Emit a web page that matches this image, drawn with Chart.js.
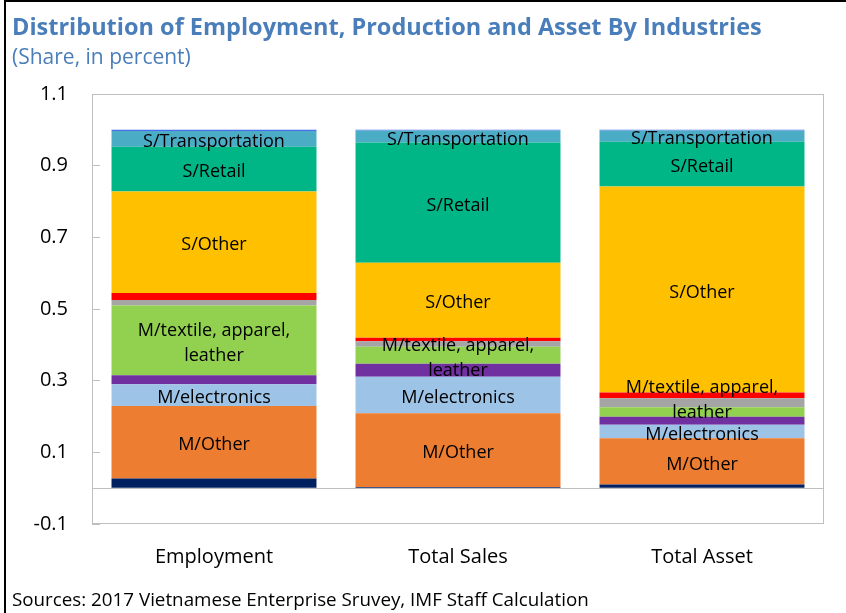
<!DOCTYPE html>
<html>
<head>
<meta charset="utf-8">
<script src="https://cdn.jsdelivr.net/npm/chart.js@4.4.1/dist/chart.umd.min.js"></script>
<style>
  html, body { margin: 0; padding: 0; background: #fff; }
  #chart { display: block; }
</style>
</head>
<body>
<canvas id="chart" width="846" height="613"></canvas>
<script>
const TITLE = 'Distribution of Employment, Production and Asset By Industries';
const SUBTITLE = '(Share, in percent)';
const SOURCE = 'Sources: 2017 Vietnamese Enterprise Sruvey, IMF Staff Calculation';

const categories = ['Employment', 'Total Sales', 'Total Asset'];
// 0 is only there for the zero line, it gets no label
const yTicks = [-0.1, 0, 0.1, 0.3, 0.5, 0.7, 0.9, 1.1];

// shares, bottom of the stack first
const agriculture  = [0.027, 0.003, 0.010];
const mOther       = [0.202, 0.206, 0.129];
const mElectronics = [0.061, 0.102, 0.038];
const mChemicals   = [0.025, 0.036, 0.022];
const mTextile     = [0.195, 0.048, 0.027];
const construction = [0.015, 0.015, 0.025];
const utilities    = [0.020, 0.010, 0.016];
const sOther       = [0.283, 0.209, 0.575];
const sRetail      = [0.125, 0.336, 0.125];
const sTransport   = [0.044, 0.033, 0.031];
const sFinance     = [0.003, 0.002, 0.002];

function series(label, data, color, tag, tagShift) {
  return { label, data, backgroundColor: color, borderWidth: 0, tag, tagShift };
}

const datasets = [
  series('Agriculture', agriculture, '#002060'),
  series('M/Other', mOther, '#ED7D31', 'M/Other'),
  series('M/electronics', mElectronics, '#9DC3E6', 'M/electronics'),
  series('M/chemicals', mChemicals, '#7030A0'),
  // the asset label was nudged up in the original
  series('M/textile, apparel, leather', mTextile, '#92D050', ['M/textile, apparel,', 'leather'], [0, 0, -15]),
  series('Construction', construction, '#A5A5A5'),
  series('Utilities', utilities, '#FF0000'),
  series('S/Other', sOther, '#FFC000', 'S/Other'),
  series('S/Retail', sRetail, '#00B686', 'S/Retail'),
  series('S/Transportation', sTransport, '#4BACC6', 'S/Transportation'),
  series('S/Finance', sFinance, '#4A6CF0'),
];

const headerFooter = {
  id: 'headerFooter',
  beforeDraw(chart) {
    const ctx = chart.ctx;
    ctx.save();
    ctx.fillStyle = '#fff';
    ctx.fillRect(0, 0, chart.width, chart.height);
    // page frame, top and left
    ctx.fillStyle = '#000';
    ctx.fillRect(4, 0, chart.width - 4, 2);
    ctx.fillRect(4, 0, 2, chart.height);

    ctx.textAlign = 'left';
    ctx.textBaseline = 'alphabetic';
    ctx.fillStyle = '#4A7EBA';
    ctx.font = 'bold 23.5px "Open Sans"';
    ctx.fillText(TITLE, 12, 35);
    ctx.font = '21px "Open Sans"';
    ctx.fillText(SUBTITLE, 12, 64);
    ctx.fillStyle = '#000';
    ctx.font = '18.8px "Open Sans"';
    ctx.fillText(SOURCE, 12, 606);
    ctx.restore();
  },
  beforeDatasetsDraw(chart) {
    const { ctx, chartArea: a } = chart;
    ctx.save();
    ctx.strokeStyle = '#BFBFBF';
    ctx.lineWidth = 1;
    ctx.strokeRect(a.left + 0.5, a.top + 0.5, a.right - a.left - 1, a.bottom - a.top - 1);
    ctx.restore();
  }
};

const segmentLabels = {
  id: 'segmentLabels',
  afterDatasetsDraw(chart) {
    const ctx = chart.ctx;
    ctx.save();
    ctx.font = '18px "Open Sans"';
    ctx.fillStyle = '#000';
    ctx.textAlign = 'center';
    ctx.textBaseline = 'middle';
    chart.data.datasets.forEach((ds, i) => {
      if (!ds.tag) return;
      const lines = [].concat(ds.tag);
      chart.getDatasetMeta(i).data.forEach((bar, j) => {
        const shift = ds.tagShift ? ds.tagShift[j] : 0;
        const mid = (bar.y + bar.base) / 2 + 3 + shift;
        lines.forEach((t, k) => {
          ctx.fillText(t, bar.x, mid + (k - (lines.length - 1) / 2) * 25);
        });
      });
    });
    ctx.restore();
  }
};

const gray = '#BFBFBF';
const none = 'rgba(0,0,0,0)';

new Chart(document.getElementById('chart').getContext('2d'), {
  type: 'bar',
  data: { labels: categories, datasets },
  options: {
    responsive: false,
    animation: false,
    devicePixelRatio: 1,
    datasets: { bar: { barPercentage: 0.84, categoryPercentage: 1.0 } },
    layout: { padding: { top: 94, right: 22, left: 0, bottom: 0 } },
    plugins: {
      legend: { display: false },
      tooltip: { enabled: false },
    },
    scales: {
      x: {
        stacked: true,
        afterFit: (s) => { s.height = 89; },
        border: { display: false },
        grid: { display: false, drawTicks: false },
        ticks: { padding: 21, color: '#000', font: { size: 20, family: 'Open Sans' } },
      },
      y: {
        stacked: true,
        min: -0.1,
        max: 1.1,
        afterBuildTicks: (s) => { s.ticks = yTicks.map((v) => ({ value: v })); },
        afterFit: (s) => { s.width = 92; },
        border: { display: false },
        grid: {
          color: (c) => (c.tick && c.tick.value === 0 ? gray : none),
          tickColor: (c) => (c.tick && c.tick.value === 0 ? none : gray),
          tickLength: -8,
        },
        ticks: {
          padding: 32,
          color: '#000',
          font: { size: 20, family: 'Open Sans' },
          callback: (v) => (v === 0 ? '' : v.toFixed(1)),
        },
      },
    },
  },
  plugins: [headerFooter, segmentLabels],
});
</script>
</body>
</html>
